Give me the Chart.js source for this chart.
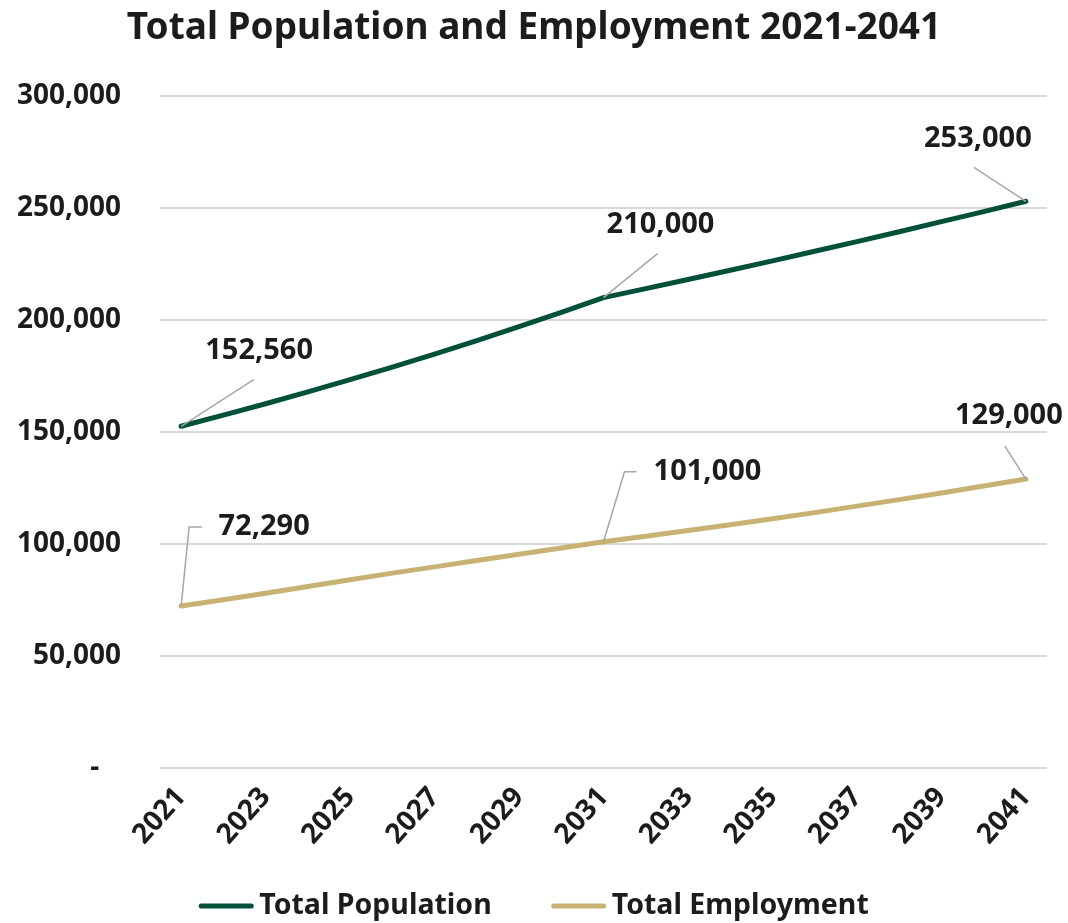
<!DOCTYPE html>
<html><head><meta charset="utf-8">
<script src="https://cdn.jsdelivr.net/npm/chart.js@4.4.1/dist/chart.umd.min.js"></script>
<style>html,body{margin:0;padding:0;background:#fff;}#wrap{width:1068px;height:923px;}</style>
</head><body><div id="wrap"><canvas id="c" width="1068" height="923"></canvas></div>
<script>
const years = ['2021','2022','2023','2024','2025','2026','2027','2028','2029','2030','2031','2032','2033','2034','2035','2036','2037','2038','2039','2040','2041'];
const population = [152560,157500,162600,167900,173400,179000,184800,190800,197000,203400,210000,214000,218100,222200,226400,230700,235000,239400,243900,248400,253000];
const employment = [72290,75100,78000,81000,84000,87000,89800,92600,95400,98200,101000,103500,106000,108600,111300,114000,116900,119800,122800,125900,129000];
const seriesNames = ['Total Population','Total Employment'];
const yTickValues = [0,50000,100000,150000,200000,250000,300000];
const labelledYears = ['2021','2031','2041'];

const FONT = "'Noto Sans', 'DejaVu Sans', sans-serif";
const TEXT = '#1c1c1c';
const GREEN = '#00503a';
const TAN = '#c8b273';

// label placement (style): offsets from the data point, leader polyline offsets
const labelStyle = {
  0: {
    '2021': {dx: 78, dy: -76, leader: [[73, -47]]},
    '2031': {dx: 57, dy: -73, leader: [[54, -44]]},
    '2041': {dx: -48, dy: -63, leader: [[-52, -34]]}
  },
  1: {
    '2021': {dx: 83, dy: -79, leader: [[8, -79], [21, -79]]},
    '2031': {dx: 104, dy: -70, leader: [[21, -70], [33, -70]]},
    '2041': {dx: -17, dy: -63, leader: [[-21, -33]]}
  }
};

const dataLabels = {
  id: 'dataLabels',
  afterDatasetsDraw(chart) {
    const ctx = chart.ctx;
    const xs = chart.scales.x, ys = chart.scales.y;
    ctx.save();
    chart.data.datasets.forEach((ds, di) => {
      labelledYears.forEach(yr => {
        const i = chart.data.labels.indexOf(yr);
        const v = ds.data[i];
        const px = xs.getPixelForValue(i);
        const py = ys.getPixelForValue(v);
        const st = labelStyle[di][yr];
        ctx.strokeStyle = '#a6a6a6';
        ctx.lineWidth = 1.5;
        ctx.beginPath();
        ctx.moveTo(px, py);
        st.leader.forEach(p => ctx.lineTo(px + p[0], py + p[1]));
        ctx.stroke();
        ctx.fillStyle = TEXT;
        ctx.font = 'bold 29px ' + FONT;
        ctx.textAlign = 'center';
        ctx.textBaseline = 'middle';
        ctx.fillText(v.toLocaleString('en-US'), px + st.dx, py + st.dy);
      });
    });
    ctx.restore();
  }
};

const bottomLegend = {
  id: 'bottomLegend',
  afterDraw(chart) {
    const ctx = chart.ctx;
    const lineW = 54, gapText = 6, gapItem = 60, y = 906;
    ctx.save();
    ctx.font = 'bold 28.5px ' + FONT;
    ctx.textBaseline = 'middle';
    ctx.textAlign = 'left';
    const items = chart.data.datasets.map(ds => ({text: ds.label, color: ds.borderColor, w: ctx.measureText(ds.label).width}));
    let total = 0;
    items.forEach((it, k) => { total += lineW + gapText + it.w + (k ? gapItem : 0); });
    let x = (chart.width - total) / 2;
    items.forEach((it, k) => {
      if (k) x += gapItem;
      ctx.strokeStyle = it.color;
      ctx.lineWidth = 5;
      ctx.lineCap = 'round';
      ctx.beginPath();
      ctx.moveTo(x + 2, y);
      ctx.lineTo(x + lineW - 2, y);
      ctx.stroke();
      x += lineW + gapText;
      ctx.fillStyle = TEXT;
      ctx.fillText(it.text, x, y);
      x += it.w;
    });
    ctx.restore();
  }
};

new Chart(document.getElementById('c'), {
  type: 'line',
  data: {
    labels: years,
    datasets: [
      {label: seriesNames[0], data: population, borderColor: GREEN, backgroundColor: GREEN, borderWidth: 5, pointRadius: 0, tension: 0, borderCapStyle: 'round', borderJoinStyle: 'round'},
      {label: seriesNames[1], data: employment, borderColor: TAN, backgroundColor: TAN, borderWidth: 5, pointRadius: 0, tension: 0, borderCapStyle: 'round', borderJoinStyle: 'round'}
    ]
  },
  options: {
    responsive: false,
    animation: false,
    layout: {padding: {left: 0, right: 0, top: 0, bottom: 40}},
    plugins: {
      title: {
        display: true,
        text: 'Total Population and Employment 2021-2041',
        color: TEXT,
        font: {family: FONT, size: 37, weight: 'bold', lineHeight: 1.2},
        padding: {top: 6, bottom: 45.6}
      },
      legend: {display: false},
      tooltip: {enabled: false}
    },
    scales: {
      x: {
        offset: true,
        grid: {display: false},
        border: {display: false},
        ticks: {
          autoSkip: false,
          maxRotation: 48,
          minRotation: 48,
          color: TEXT,
          padding: 5,
          font: {family: FONT, size: 28, weight: 'bold'},
          callback: function(val, idx) { return idx % 2 === 0 ? this.getLabelForValue(val) : ''; }
        },
        afterFit(s) { s.height = 115; }
      },
      y: {
        min: 0,
        max: 300000,
        afterBuildTicks(s) { s.ticks = yTickValues.map(v => ({value: v})); },
        grid: {color: '#d9d9d9', lineWidth: 2, drawTicks: false},
        border: {display: false},
        ticks: {
          color: TEXT,
          padding: 39,
          font: {family: FONT, size: 28, weight: 'bold'},
          callback: v => v === 0 ? '-   ' : v.toLocaleString('en-US')
        },
        afterFit(s) { s.width = 160; }
      },
      ySpacer: {
        position: 'right',
        display: true,
        min: 0,
        max: 1,
        grid: {display: false, drawTicks: false},
        border: {display: false},
        ticks: {display: false},
        afterFit(s) { s.width = 21; }
      }
    }
  },
  plugins: [dataLabels, bottomLegend]
});
</script></body></html>
